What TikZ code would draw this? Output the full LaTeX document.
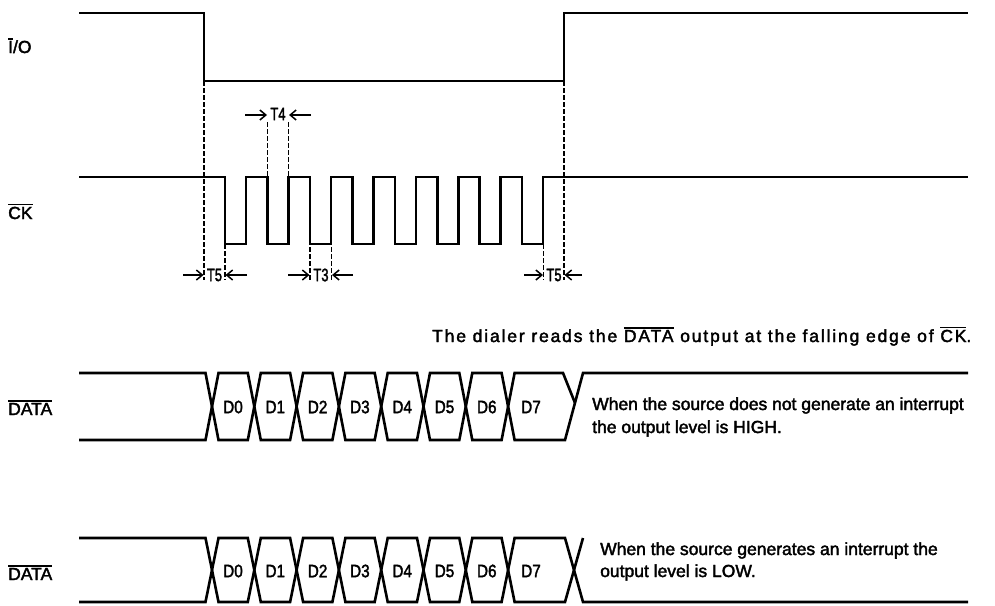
\documentclass[tikz,border=0pt]{standalone}
\usepackage{fontspec}
\setmainfont{Liberation Sans}[FakeBold=2.2]
\usetikzlibrary{arrows.meta}
\newcommand\myovl[1]{\leavevmode\vbox{\hrule height 1.5pt\kern1.4pt\hbox{#1}}}
\begin{document}
\begin{tikzpicture}[x=1pt,y=-1pt,
  wave/.style={line width=2.6pt, line join=miter},
  guide/.style={line width=1.3pt, dash pattern=on 4.5pt off 2.5pt},
  tarrow/.style={line width=1.5pt, -{Straight Barb[length=6pt,width=10pt]}},
  lbl/.style={font=\fontsize{17.5}{20}\selectfont, inner sep=0pt, anchor=base west},
  dlbl/.style={font=\fontsize{18}{20}\selectfont, inner sep=0pt},
  tlbl/.style={font=\fontsize{18}{20}\selectfont, inner sep=0pt}]
\useasboundingbox (0,0) rectangle (995,605);

% ---------- I/O ----------
\node[lbl] (lio) at (8,53) {\myovl{I}/O};
\draw[wave] (79,13) -- (204,13) -- (204,81) -- (564,81) -- (564,13) -- (968,13);

% ---------- CK ----------
\node[lbl] (lck) at (8,219) {\myovl{CK}};
\draw[wave] (79,177)
  foreach \i in {0,...,7} { -- ({225+42.45*\i},177) -- ({225+42.45*\i},244) -- ({246+42.45*\i},244) -- ({246+42.45*\i},177) }
  -- (968,177);

% guides
\draw[guide] (204,81) -- (204,280);
\draw[guide] (564,81) -- (564,280);
\draw[guide] (225,244) -- (225,280);
\draw[guide] (310,177) -- (310,280);
\draw[guide] (331.5,177) -- (331.5,280);
\draw[guide] (543.5,244) -- (543.5,280);
\draw[guide] (267.5,122) -- (267.5,177);
\draw[guide] (288.5,122) -- (288.5,177);

% timing labels
\node[tlbl] (t4) at (278,114) {\scalebox{0.72}[1]{T4}};
\draw[tarrow] (245,115) -- (267,115);
\draw[tarrow] (311,115) -- (289,115);

\node[tlbl] (t5a) at (214.5,275) {\scalebox{0.72}[1]{T5}};
\draw[tarrow] (183,275) -- (203.5,275);
\draw[tarrow] (247,275) -- (225.5,275);

\node[tlbl] (t3) at (321,275) {\scalebox{0.72}[1]{T3}};
\draw[tarrow] (288,275) -- (309.5,275);
\draw[tarrow] (353,275) -- (332,275);

\node[tlbl] (t5b) at (554,275) {\scalebox{0.72}[1]{T5}};
\draw[tarrow] (524,275) -- (543,275);
\draw[tarrow] (582,275) -- (564.5,275);

% caption
\node[lbl] (cap) at (432,342) {\addfontfeature{LetterSpace=10.5}The dialer reads the \myovl{DATA} output at the falling edge of \myovl{CK}.};

% ---------- DATA row 1 ----------
\node[lbl] (ld1) at (8,415) {\myovl{DATA}};
\draw[wave] (79,373)
  foreach \k in {0,2,4,6} { -- ({205.5+42.3*\k},373) -- ({218.5+42.3*\k},440) -- ({205.5+42.3*(\k+1)},440) -- ({218.5+42.3*(\k+1)},373) }
  -- (563,373) -- (575,403);
\draw[wave] (79,440)
  foreach \k in {0,2,4,6} { -- ({205.5+42.3*\k},440) -- ({218.5+42.3*\k},373) -- ({205.5+42.3*(\k+1)},373) -- ({218.5+42.3*(\k+1)},440) }
  -- (565,440) -- (583,373) -- (968,373);
\foreach \k in {0,...,6} {
  \node[dlbl] (d1-\k) at ({233+42.3*\k},407) {\scalebox{0.85}[1]{D\k}};
}
\node[dlbl] (d1-7) at (531,407) {\scalebox{0.85}[1]{D7}};
\node[lbl] (n1a) at (592,410) {When the source does not generate an interrupt};
\node[lbl] (n1b) at (592,433) {the output level is HIGH.};

% ---------- DATA row 2 ----------
\node[lbl] (ld2) at (8,580) {\myovl{DATA}};
\draw[wave] (79,538)
  foreach \k in {0,2,4,6} { -- ({205.5+42.3*\k},538) -- ({218.5+42.3*\k},602) -- ({205.5+42.3*(\k+1)},602) -- ({218.5+42.3*(\k+1)},538) }
  -- (565,538) -- (583,602) -- (968,602);
\draw[wave] (79,602)
  foreach \k in {0,2,4,6} { -- ({205.5+42.3*\k},602) -- ({218.5+42.3*\k},538) -- ({205.5+42.3*(\k+1)},538) -- ({218.5+42.3*(\k+1)},602) }
  -- (565,602) -- (583,538);
\foreach \k in {0,...,6} {
  \node[dlbl] (d2-\k) at ({233+42.3*\k},571) {\scalebox{0.85}[1]{D\k}};
}
\node[dlbl] (d2-7) at (531,571) {\scalebox{0.85}[1]{D7}};
\node[lbl] (n2a) at (600,555) {When the source generates an interrupt the};
\node[lbl] (n2b) at (600,577) {output level is LOW.};
\end{tikzpicture}
\end{document}
